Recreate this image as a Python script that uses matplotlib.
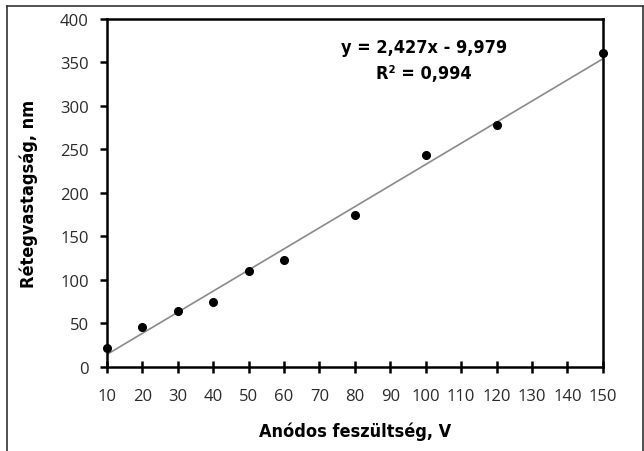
import matplotlib
matplotlib.use("Agg")
import matplotlib.pyplot as plt
from matplotlib.lines import Line2D
import numpy as np

voltage = [10, 20, 30, 40, 50, 60, 80, 100, 120, 150]
thickness = [22, 46, 64, 75, 110, 123, 175, 244, 278, 361]

# Linear fit as printed on the chart
slope = 2.427
intercept = -9.979
r_squared = 0.994

x_ticks = list(range(10, 151, 10))
y_ticks = list(range(0, 401, 50))

label_font = ["DejaVu Sans", "Liberation Sans"]

fig = plt.figure(figsize=(6.44, 4.52), dpi=100)
ax = fig.add_axes([0.166, 0.186, 0.770, 0.770])

# Trend line
fit_x = np.array([voltage[0], voltage[-1]])
ax.plot(fit_x, slope * fit_x + intercept, color="#8a8a8a", linewidth=1.2, zorder=2)

# Data points
ax.plot(voltage, thickness, "o", color="black", markersize=5.5, zorder=3, clip_on=False)

ax.set_xlim(10, 150)
ax.set_ylim(0, 400)
ax.set_xticks(x_ticks)
ax.set_yticks(y_ticks)

for side in ax.spines.values():
    side.set_linewidth(1.8)
    side.set_color("black")

ax.tick_params(axis="y", direction="out", length=5, width=1.8, pad=8,
               labelsize=12, labelcolor="#2a2a2a")
ax.tick_params(axis="x", direction="inout", length=8, width=1.8, pad=11,
               labelsize=12, labelcolor="#2a2a2a")
for lab in ax.get_xticklabels() + ax.get_yticklabels():
    lab.set_family(["Open Sans", "DejaVu Sans"])

ax.set_xlabel("Anódos feszültség, V", family=label_font, fontweight="bold",
              fontstretch="condensed", fontsize=13, labelpad=13)
ax.set_ylabel("Rétegvastagság, nm", family=label_font, fontweight="bold",
              fontstretch="condensed", fontsize=13, labelpad=16)

# Equation text
ax.text(0.64, 0.92, f"y = {slope:.3f}x - {abs(intercept):.3f}".replace(".", ","),
        transform=ax.transAxes, ha="center", va="center", fontstretch="condensed",
        family=label_font, fontweight="bold", fontsize=13)
ax.text(0.64, 0.845, f"R² = {r_squared:.3f}".replace(".", ","),
        transform=ax.transAxes, ha="center", va="center", fontstretch="condensed",
        family=label_font, fontweight="bold", fontsize=13)

# Outer frame (bottom edge cut off in the original)
frame_kw = dict(transform=fig.transFigure, color="#333333", linewidth=1.2)
fig.lines.append(Line2D([0.011, 0.011], [0.0, 0.985], **frame_kw))
fig.lines.append(Line2D([0.011, 0.998], [0.985, 0.985], **frame_kw))
fig.lines.append(Line2D([0.998, 0.998], [0.0, 0.985], **frame_kw))

fig.savefig("out.png", dpi=100, facecolor="white")
